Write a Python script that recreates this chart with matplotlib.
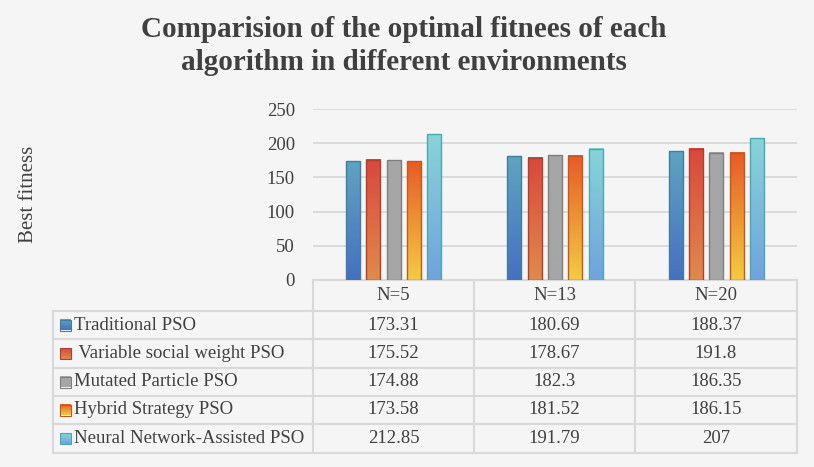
import numpy as np
import matplotlib
matplotlib.use('Agg')
import matplotlib.pyplot as plt
from matplotlib.colors import LinearSegmentedColormap

# data
environments = ['N=5', 'N=13', 'N=20']
algorithms = ['Traditional PSO', ' Variable social weight PSO', 'Mutated Particle PSO',
              'Hybrid Strategy PSO', 'Neural Network-Assisted PSO']
traditional = [173.31, 180.69, 188.37]
variable_social = [175.52, 178.67, 191.8]
mutated = [174.88, 182.3, 186.35]
hybrid = [173.58, 181.52, 186.15]
neural = [212.85, 191.79, 207]
values_text = [['173.31', '180.69', '188.37'],
               ['175.52', '178.67', '191.8'],
               ['174.88', '182.3', '186.35'],
               ['173.58', '181.52', '186.15'],
               ['212.85', '191.79', '207']]
yticks = [0, 50, 100, 150, 200, 250]

series = [traditional, variable_social, mutated, hybrid, neural]
# (bottom colour, top colour, edge colour)
bar_colors = [('#4670c2', '#5fa3c0', '#3f7f9e'),
              ('#e08a4c', '#d8483c', '#b0402e'),
              ('#a6a6a6', '#a6a6a6', '#7f7f7f'),
              ('#f2cc42', '#e85a26', '#c05a1c'),
              ('#70a2de', '#88d4d8', '#4aa8b0')]

bg = '#f5f5f5'
txt = '#404040'
grid_c = '#d9d9d9'
W, H = 814, 467

plt.rcParams['font.family'] = ['Liberation Serif', 'DejaVu Serif']

fig = plt.figure(figsize=(W / 100, H / 100), dpi=100, facecolor=bg)

# overlay in pixel coords for the data table
ov = fig.add_axes([0, 0, 1, 1], facecolor='none')
ov.set_xlim(0, W)
ov.set_ylim(H, 0)
ov.axis('off')

# main plot area
ax = fig.add_axes([313 / W, (H - 280) / H, (797 - 313) / W, (280 - 109) / H], facecolor='none')
ax.set_xlim(-0.5, 2.5)
ax.set_ylim(0, 250)
ax.set_yticks(yticks)
ax.set_xticks([])
ax.tick_params(axis='y', length=0, pad=13, labelsize=13.5, labelcolor=txt)
for s in ax.spines.values():
    s.set_visible(False)
ax.grid(axis='y', color=grid_c, linewidth=1.3, zorder=0)
ax.set_axisbelow(True)

grad = np.linspace(0, 1, 256).reshape(-1, 1)
step = 0.126
width = 0.087
x = np.arange(len(environments))
cmaps = []
for j, (vals, (c0, c1, ec)) in enumerate(zip(series, bar_colors)):
    cm = LinearSegmentedColormap.from_list('c%d' % j, [c0, c1])
    cmaps.append(cm)
    pos = x + (j - 2) * step
    bars = ax.bar(pos, vals, width, facecolor='none', edgecolor=ec, linewidth=1.0, zorder=3)
    for b in bars:
        x0 = b.get_x()
        h = b.get_height()
        ax.imshow(grad, extent=[x0, x0 + width, 0, h], origin='lower', aspect='auto',
                  cmap=cm, zorder=2, interpolation='bicubic')
ax.set_xlim(-0.5, 2.5)
ax.set_ylim(0, 250)

ax.set_ylabel('Best fitness', fontsize=15, color=txt)
ax.yaxis.set_label_coords((38 - 313) / (797 - 313), 0.5)

fig.text(404 / W, 1 - 46 / H, 'Comparision of the optimal fitnees of each\nalgorithm in different environments',
         ha='center', va='center', fontsize=21, fontweight='bold', color=txt, linespacing=1.33)

# table grid
col_x = [53, 313, 474, 635, 797]
row_y = [280, 311, 339, 368, 396, 424, 453]
lc = grid_c
lw = 1.5
ov.plot([313, 797], [280, 280], color=lc, lw=lw)
for yy in row_y[1:]:
    ov.plot([53, 797], [yy, yy], color=lc, lw=lw)
ov.plot([53, 53], [311, 453], color=lc, lw=lw)
for xx in col_x[1:]:
    ov.plot([xx, xx], [280, 453], color=lc, lw=lw)

for i, env in enumerate(environments):
    cx = (col_x[i + 1] + col_x[i + 2]) / 2
    ov.text(cx, (280 + 311) / 2, env, ha='center', va='center', fontsize=13.5, color=txt)

for r, name in enumerate(algorithms):
    cy = (row_y[r + 1] + row_y[r + 2]) / 2
    ov.imshow(grad, extent=[60, 71, cy + 5.5, cy - 5.5], origin='upper', aspect='auto',
              cmap=cmaps[r].reversed(), zorder=2)
    ov.add_patch(plt.Rectangle((60, cy - 5.5), 11, 11, fill=False, ec=bar_colors[r][2], lw=0.8, zorder=3))
    ov.text(74, cy, name, ha='left', va='center', fontsize=13.5, color=txt)
    for i in range(len(environments)):
        cx = (col_x[i + 1] + col_x[i + 2]) / 2
        ov.text(cx, cy, values_text[r][i], ha='center', va='center', fontsize=13.5, color=txt)
ov.set_xlim(0, W)
ov.set_ylim(H, 0)

fig.savefig('out.png', dpi=100, facecolor=bg)
